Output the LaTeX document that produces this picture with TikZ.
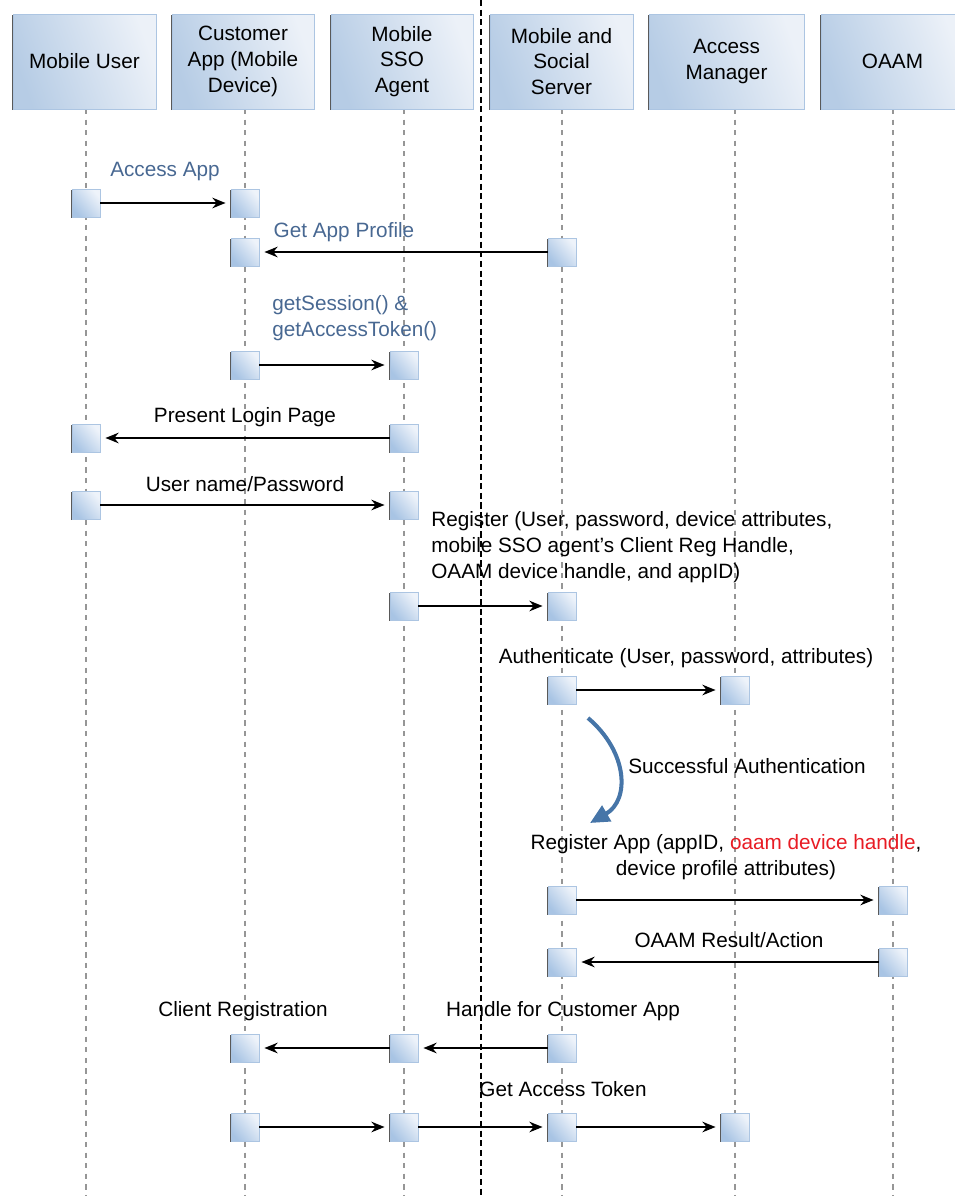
\documentclass[tikz,border=0pt]{standalone}
\usepackage{fontspec}
\setmainfont{Liberation Sans}
\usetikzlibrary{arrows.meta,shadows}

\definecolor{boxblue}{RGB}{182,204,229}
\definecolor{boxlight}{RGB}{236,241,248}
\definecolor{boxedge}{RGB}{172,197,226}
\definecolor{actblue}{RGB}{168,196,228}
\definecolor{actlight}{RGB}{238,243,250}
\definecolor{labelblue}{RGB}{72,104,146}
\definecolor{bendblue}{RGB}{70,117,168}
\definecolor{noteRed}{RGB}{232,28,36}
\definecolor{lifegray}{RGB}{150,150,150}

\tikzset{
  lifebox/.style={draw=boxedge, line width=0.5pt, top color=boxlight, bottom color=boxblue,
    shading angle=-70, minimum height=1.9cm, align=center,
    drop shadow={shadow xshift=-0.7pt, shadow yshift=-0.7pt, fill=black!65, opacity=1}},
  act/.style={draw=boxedge, line width=0.5pt, top color=actlight, bottom color=actblue,
    shading angle=-50, minimum size=0.56cm, inner sep=0pt,
    drop shadow={shadow xshift=-0.7pt, shadow yshift=-0.7pt, fill=black!65, opacity=1}},
  msg/.style={-{Stealth[length=7.5pt,width=6pt]}, line width=1.1pt, shorten >=0.1cm},
  lbl/.style={inner sep=0pt, align=center},
  bluelbl/.style={lbl, text=labelblue},
  lifeline/.style={lifegray, line width=0.6pt, dash pattern=on 3pt off 3pt},
}

\begin{document}
\begin{tikzpicture}[x=0.02cm, y=-0.02cm, font=\fontsize{11.8}{14.7}\selectfont]
\useasboundingbox (0,0) rectangle (955,1196);

% lifelines
\foreach \lx in {86,245,404,562,735,893}
  \draw[lifeline] (\lx,109) -- (\lx,1196);

% header boxes
\node[lifebox, minimum width=2.86cm] (hUser) at (84.5,61.5) {Mobile User};
\node[lifebox, minimum width=2.84cm] (hApp) at (243,61.5) {Customer\\App (Mobile\\Device)};
\node[lifebox, minimum width=2.84cm] (hAgent) at (402,61.5) {Mobile\\SSO\\Agent};
\node[lifebox, minimum width=2.86cm] (hServer) at (561.5,61.5) {Mobile and\\Social\\Server};
\node[lifebox, minimum width=3.1cm] (hAM) at (726.5,61.5) {Access\\Manager};
\node[lifebox, minimum width=2.86cm] (hOAAM) at (892.5,61.5) {OAAM};

% device / server boundary
\draw[black, line width=0.7pt, dash pattern=on 3.5pt off 2pt] (481,0) -- (481,1196);

% Access App
\node[act] (a1) at (86,203) {};
\node[act] (a2) at (245,203) {};
\draw[msg] (a1) -- (a2);
\node[bluelbl] at (165,172) {Access App};

% Get App Profile
\node[act] (b1) at (245,252) {};
\node[act] (b2) at (562,252) {};
\draw[msg] (b2) -- (b1);
\node[bluelbl] at (344,232) {Get App Profile};

% getSession / getAccessToken
\node[act] (c1) at (245,365) {};
\node[act] (c2) at (404,365) {};
\draw[msg] (c1) -- (c2);
\node[bluelbl, align=left, anchor=west] at (272,318) {getSession() \&\\getAccessToken()};

% login page
\node[act] (d1) at (86,438) {};
\node[act] (d2) at (404,438) {};
\draw[msg] (d2) -- (d1);
\node[lbl] at (245,417) {Present Login Page};

% credentials
\node[act] (e1) at (86,505) {};
\node[act] (e2) at (404,505) {};
\draw[msg] (e1) -- (e2);
\node[lbl] at (245,484) {User name/Password};

% Register
\node[act] (f1) at (404,606) {};
\node[act] (f2) at (562,606) {};
\draw[msg] (f1) -- (f2);
\node[lbl, align=left, anchor=west] at (431,547) {Register (User, password, device attributes,\\mobile SSO agent’s Client Reg Handle,\\OAAM device handle, and appID)};

% Authenticate
\node[act] (g1) at (562,690) {};
\node[act] (g2) at (735,690) {};
\draw[msg] (g1) -- (g2);
\node[lbl] at (686,658) {Authenticate (User, password, attributes)};

% Successful Authentication
\coordinate (okFrom) at (588,718);
\coordinate (okTo) at (590,823);
\draw[bendblue, line width=2.3pt, -{Triangle[length=11pt,width=10pt]}]
  (okFrom) .. controls (628,752) and (630,800) .. (okTo);
\node[lbl] at (747,766) {Successful Authentication};

% Register App
\node[act] (h1) at (562,900) {};
\node[act] (h2) at (893,900) {};
\draw[msg] (h1) -- (h2);
\node[lbl] at (726,857) {Register App (appID, \textcolor{noteRed}{oaam device handle},\\device profile attributes)};

% OAAM Result
\node[act] (i1) at (562,962) {};
\node[act] (i2) at (893,962) {};
\draw[msg] (i2) -- (i1);
\node[lbl] at (729,940) {OAAM Result/Action};

% client registration
\node[act] (j1) at (245,1048) {};
\node[act] (j2) at (404,1048) {};
\node[act] (j3) at (562,1048) {};
\draw[msg] (j3) -- (j2);
\draw[msg] (j2) -- (j1);
\node[lbl] at (243,1011) {Client Registration};
\node[lbl] at (563,1011) {Handle for Customer App};

% Get Access Token
\node[act] (k1) at (245,1127) {};
\node[act] (k2) at (404,1127) {};
\node[act] (k3) at (562,1127) {};
\node[act] (k4) at (735,1127) {};
\draw[msg] (k1) -- (k2);
\draw[msg] (k2) -- (k3);
\draw[msg] (k3) -- (k4);
\node[lbl] at (563,1089) {Get Access Token};
\end{tikzpicture}
\end{document}
